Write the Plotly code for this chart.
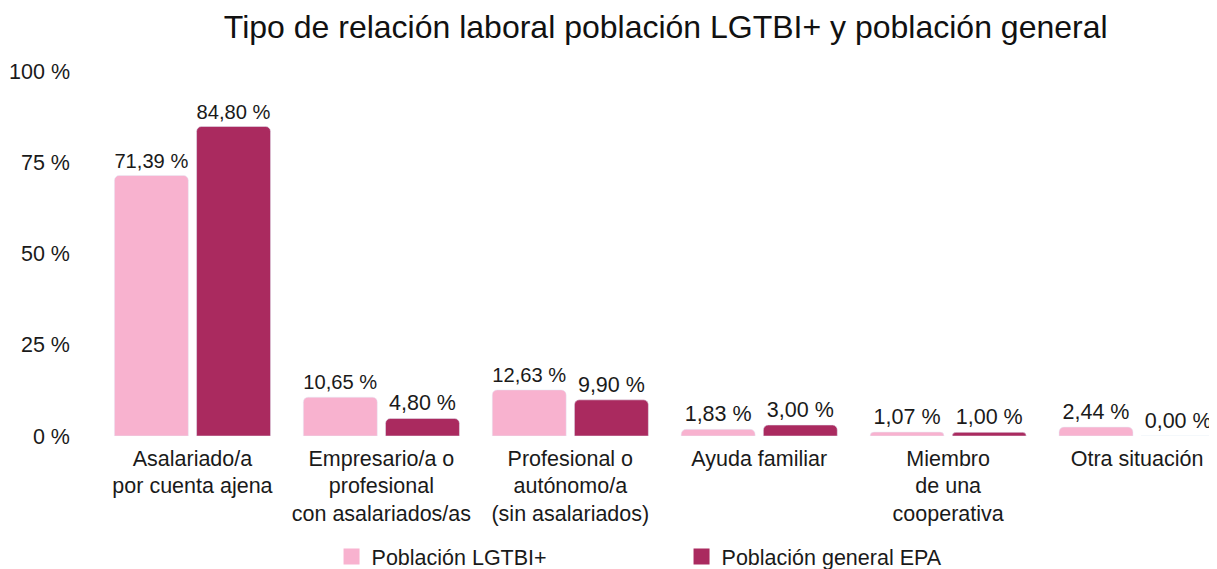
import plotly.graph_objects as go

categories = [
    "Asalariado/a<br>por cuenta ajena",
    "Empresario/a o<br>profesional<br>con asalariados/as",
    "Profesional o<br>autónomo/a<br>(sin asalariados)",
    "Ayuda familiar",
    "Miembro<br>de una<br>cooperativa",
    "Otra situación",
]
lgtbi = [71.39, 10.65, 12.63, 1.83, 1.07, 2.44]
general = [84.80, 4.80, 9.90, 3.00, 1.00, 0.00]
series_names = ["Población LGTBI+", "Población general EPA"]
colors = ["#F8B2CF", "#AA2A5F"]
ytick_vals = [0, 25, 50, 75, 100]
ytick_text = ["0 %", "25 %", "50 %", "75 %", "100 %"]

FONT = "Liberation Sans, Arial, Helvetica, sans-serif"
TXT = "#1a1a1a"
FS = 21.5

fig = go.Figure()
for name, vals, col in zip(series_names, [lgtbi, general], colors):
    fig.add_trace(go.Bar(
        x=categories, y=vals, name=name, marker_color=col,
        texttemplate="%{y:.2f} %", textposition="outside",
        textfont=dict(size=FS, color=TXT, family=FONT),
        cliponaxis=False, showlegend=False,
    ))
    # legend proxy with larger square symbol
    fig.add_trace(go.Scatter(
        x=[None], y=[None], mode="markers", name=name,
        marker=dict(symbol="square", size=20, color=col),
    ))

fig.update_layout(
    width=1209, height=569,
    margin=dict(l=89.5, r=0, t=63, b=141, autoexpand=False),
    paper_bgcolor="white", plot_bgcolor="white",
    separators=",.",
    font=dict(family=FONT, size=FS, color=TXT),
    title=dict(text="Tipo de relación laboral población LGTBI+ y población general",
               x=0.544, xanchor="center", y=0.9666, yanchor="middle",
               font=dict(size=32, color="#111", family=FONT)),
    barmode="group", bargap=0.13, bargroupgap=0.1,
    barcornerradius=5,
    xaxis=dict(range=[-0.5, 5.423], showgrid=False, showline=False, ticks="",
               tickfont=dict(size=FS, color=TXT), automargin=False,
               ticklabelstandoff=7),
    yaxis=dict(range=[0, 100], tickmode="array", tickvals=ytick_vals, ticktext=ytick_text,
               showgrid=False, zeroline=False, showline=False, automargin=False,
               tickfont=dict(size=FS, color=TXT), ticklabelstandoff=27),
    legend=dict(orientation="h", x=0.2087, xanchor="left", y=-0.3863, yanchor="bottom",
                entrywidth=305, font=dict(size=FS, color=TXT), itemsizing="trace"),
)

fig.write_html("out.html")
